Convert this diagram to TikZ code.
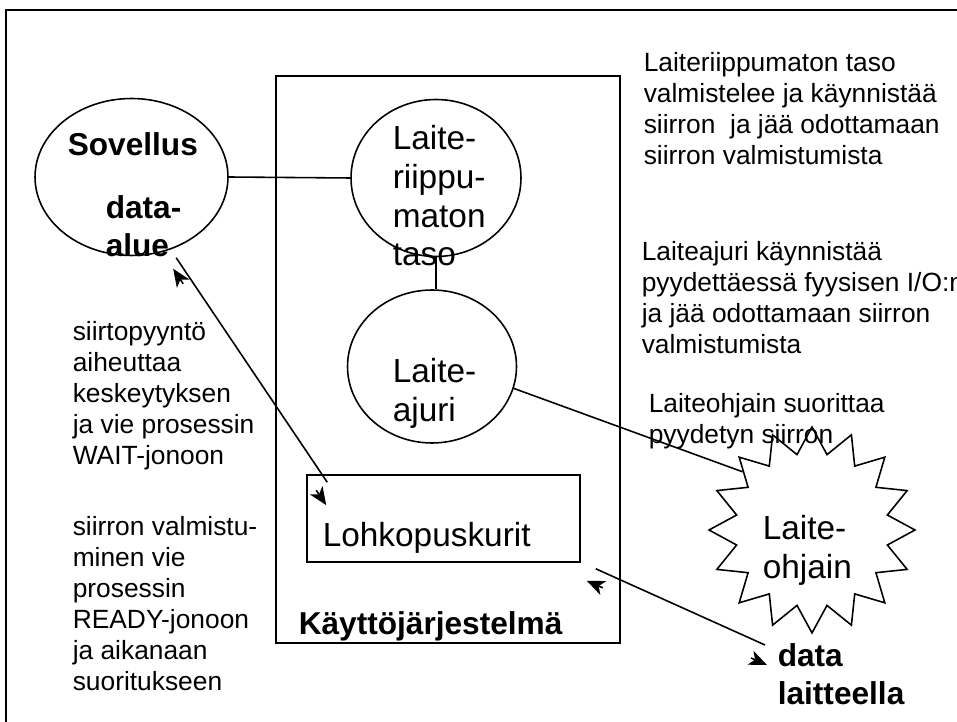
\documentclass[tikz,border=0pt]{standalone}
\usepackage{fontspec}
\setmainfont{Liberation Sans}
\usetikzlibrary{shapes.geometric,arrows.meta}

\begin{document}
\begin{tikzpicture}[x=0.02cm,y=-0.02cm,line width=0.9pt,
	oval/.style={draw,ellipse,inner sep=0pt},
	box/.style={draw,rectangle,inner sep=0pt},
	note/.style={align=left,inner sep=0pt,anchor=north west,font={\fontsize{15}{17.6}\selectfont}},
	big/.style={align=left,inner sep=0pt,font={\fontsize{19}{22}\selectfont}},
	heavy/.style={align=left,inner sep=0pt,font={\bfseries\fontsize{18}{21.5}\selectfont}},
	tip/.style={-{Stealth[length=0.36cm,width=0.3cm,inset=0.1cm]}}]
		\useasboundingbox (0,0) rectangle (957,722);
		\clip (0,0) rectangle (957,722);
		\draw[line width=1.2pt] (6,10) rectangle (990,760);
		% ympyrat ja laatikot
		\node[oval,minimum width=3.86cm,minimum height=3.14cm] (sov) at (131.5,177) {};
		\node[oval,minimum width=3.4cm,minimum height=3.14cm] (lrt) at (436,178) {};
		\node[oval,minimum width=3.38cm,minimum height=3.06cm] (ajuri) at (432,366.5) {};
		\node[box,minimum width=6.88cm,minimum height=11.34cm] (kj) at (448,359.5) {};
		\node[box,minimum width=5.46cm,minimum height=1.74cm] (lp) at (443.5,518.5) {};
		\node[draw,star,star points=16,star point ratio=1.34,minimum size=4.12cm,inner sep=0pt] (ohjain) at (812,530) {};
		% tekstit
		\node[heavy,anchor=base west] (sovtxt) at (67,156) {Sovellus};
		\node[heavy,anchor=north west] (datxt) at (105,195) {data-\\alue};
		\node[big,anchor=north west] (lrttxt) at (392,125) {Laite-\\riippu-\\maton\\taso};
		\node[big,anchor=north west] (ajtxt) at (392,358) {Laite-\\ajuri};
		\node[big,anchor=base west] (lptxt) at (322,547) {Lohkopuskurit};
		\node[big,anchor=north west] (ohtxt) at (762,515) {Laite-\\ohjain};
		\node[heavy,anchor=base west] (kjtxt) at (298,635) {Käyttöjärjestelmä};
		\node[heavy,anchor=north west] (dltxt) at (777,643) {data\\laitteella};
		\node[note] (n1) at (643,52) {Laiteriippumaton taso\\valmistelee ja käynnistää\\siirron\ \ ja jää odottamaan\\siirron valmistumista};
		\node[note] (n2) at (641,241) {Laiteajuri käynnistää\\pyydettäessä fyysisen I/O:n\\ja jää odottamaan siirron\\valmistumista};
		\node[note] (n3) at (648,393) {Laiteohjain suorittaa\\pyydetyn siirron};
		\node[note] (n4) at (72,321) {siirtopyyntö\\aiheuttaa\\keskeytyksen\\ja vie prosessin\\WAIT-jonoon};
		\node[note] (n5) at (72,516) {siirron valmistu-\\minen vie\\prosessin\\READY-jonoon\\ja aikanaan\\suoritukseen};
		% yhteydet
		\draw (sov.east) -- (lrt.west);
		\draw (lrt.south) -- (lrt.south |- ajuri.north);
		\draw (ajuri.-15) -- (ohjain.140);
		\coordinate (reqa) at ([shift={(6,8)}]sov.-62);
		\coordinate (reqb) at ([shift={(21,8)}]lp.north west);
		\draw (reqa) -- (reqb);
		\draw[tip] ([shift={(7,26)}]reqa) -- ([shift={(-3,11)}]reqa);
		\draw[tip] ([shift={(-11,8)}]reqb) -- ([shift={(-1,23)}]reqb);
		\coordinate (dla) at ([shift={(15,6)}]lp.south east);
		\coordinate (dlb) at ([shift={(-12,2)}]dltxt.north west);
		\draw (dla) -- (dlb);
		\draw[tip] ([shift={(7,19)}]dla) -- ([shift={(-9,12)}]dla);
		\draw[tip] ([shift={(-14,13)}]dlb) -- ([shift={(2,20)}]dlb);
\end{tikzpicture}
\end{document}
